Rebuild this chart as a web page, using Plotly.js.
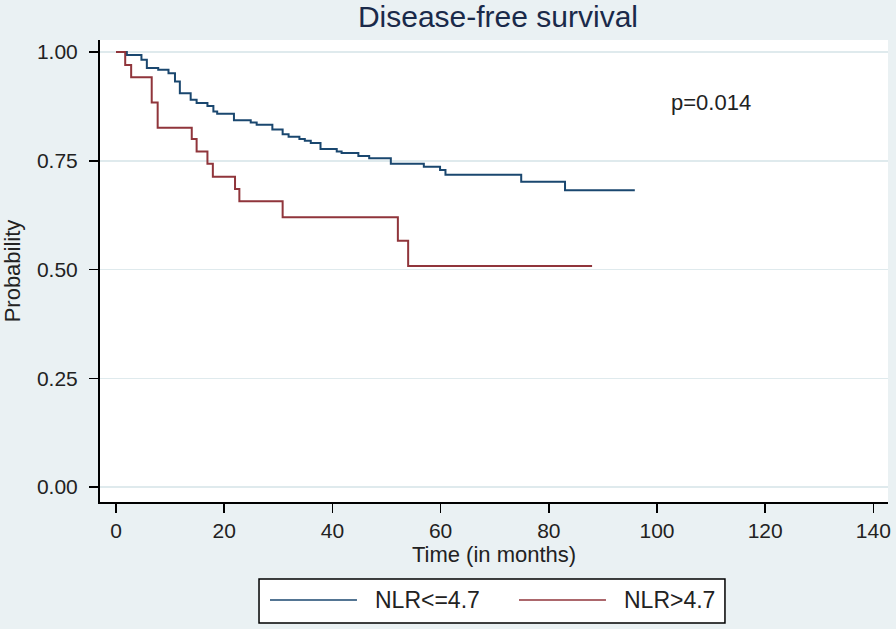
<!DOCTYPE html>
<html>
<head>
<meta charset="utf-8">
<script src="https://cdn.plot.ly/plotly-3.0.1.min.js"></script>
<style>html,body{margin:0;padding:0;background:#eaf1f3;}#chart{width:896px;height:629px;}</style>
</head>
<body>
<div id="chart"></div>
<script>
// Kaplan-Meier step points (time in months, survival probability)
const lowTime = [0, 2.0, 4.7, 5.7, 7.8, 9.7, 10.9, 11.8, 13.8, 14.9, 16.9, 18.0, 18.7, 21.8, 24.9, 26.0, 28.9, 30.8, 31.9, 33.9, 34.9, 36.0, 37.8, 40.8, 41.7, 44.8, 46.8, 50.8, 56.9, 59.9, 60.9, 74.9, 83.0, 95.9];
const lowSurv = [1.0, 0.993, 0.982, 0.963, 0.959, 0.951, 0.932, 0.905, 0.890, 0.883, 0.876, 0.863, 0.858, 0.843, 0.838, 0.833, 0.822, 0.811, 0.805, 0.800, 0.796, 0.791, 0.777, 0.771, 0.768, 0.761, 0.756, 0.743, 0.736, 0.729, 0.718, 0.702, 0.682, 0.682];
const highTime = [0, 1.7, 2.8, 6.6, 7.7, 14.0, 14.9, 16.9, 17.9, 22.0, 22.8, 30.8, 52.1, 54.0, 88.0];
const highSurv = [1.0, 0.970, 0.942, 0.884, 0.826, 0.800, 0.771, 0.743, 0.713, 0.685, 0.657, 0.620, 0.566, 0.508, 0.508];
const seriesNames = ["NLR<=4.7", "NLR>4.7"];
const seriesColors = ["#1a476f", "#90353b"];
const xTicks = [0, 20, 40, 60, 80, 100, 120, 140];
const yTicks = [0, 0.25, 0.5, 0.75, 1.0];
const yTickLabels = ["0.00", "0.25", "0.50", "0.75", "1.00"];
const pText = "p=0.014";

const font = "Arial, 'Liberation Sans', sans-serif";

const traces = [
  {x: lowTime, y: lowSurv, name: seriesNames[0], mode: "lines", line: {shape: "hv", color: seriesColors[0], width: 2}},
  {x: highTime, y: highSurv, name: seriesNames[1], mode: "lines", line: {shape: "hv", color: seriesColors[1], width: 2}}
];

const legX = [[0.2157, 0.3261, 0.3464], [0.5317, 0.6421, 0.6624]];
const legY = -0.2121;

const shapes = [
  {type: "rect", xref: "paper", yref: "paper", x0: 0.2018, x1: 0.7931, y0: -0.2619, y1: -0.1667,
   line: {color: "#000", width: 1.5}, fillcolor: "#ffffff", layer: "below"}
];
const annotations = [
  {text: pText, x: 110, y: 0.883, xref: "x", yref: "y", showarrow: false, font: {family: font, size: 22, color: "#222"}}
];
seriesNames.forEach((n, i) => {
  shapes.push({type: "line", xref: "paper", yref: "paper", x0: legX[i][0], x1: legX[i][1], y0: legY, y1: legY,
    line: {color: seriesColors[i], width: 1.5}});
  annotations.push({text: n, xref: "paper", yref: "paper", x: legX[i][2], y: legY, xanchor: "left", yanchor: "middle",
    showarrow: false, font: {family: font, size: 23, color: "#222"}});
});

const layout = {
  width: 896, height: 629,
  margin: {l: 100, r: 8, t: 40, b: 127, pad: 0},
  paper_bgcolor: "#eaf1f3",
  plot_bgcolor: "#ffffff",
  showlegend: false,
  title: {text: "Disease-free survival", x: 0.505, xref: "paper", y: 0.973, yref: "container", yanchor: "middle",
    font: {family: font, size: 30, color: "#1a2a4a"}},
  xaxis: {
    range: [-2.96, 142.7], tickvals: xTicks, ticks: "outside", ticklen: 9, tickwidth: 1.5, tickcolor: "#000",
    showline: true, linecolor: "#000", linewidth: 2, showgrid: false, zeroline: false,
    tickfont: {family: font, size: 21, color: "#222"},
    title: {text: "Time (in months)", standoff: 1, font: {family: font, size: 22, color: "#222"}},
    automargin: false
  },
  yaxis: {
    range: [-0.0345, 1.0276], tickvals: yTicks, ticktext: yTickLabels, ticks: "outside", ticklen: 9, tickwidth: 1.5,
    tickcolor: "#000", showline: true, linecolor: "#000", linewidth: 2, showgrid: true, gridcolor: "#dfeaed", gridwidth: 1.5,
    zeroline: false, ticklabelstandoff: 7,
    tickfont: {family: font, size: 21, color: "#222"},
    title: {text: "Probability", standoff: 14, font: {family: font, size: 22, color: "#222"}},
    automargin: false
  },
  shapes: shapes,
  annotations: annotations
};

Plotly.newPlot("chart", traces, layout, {displayModeBar: false, staticPlot: true});
</script>
</body>
</html>
